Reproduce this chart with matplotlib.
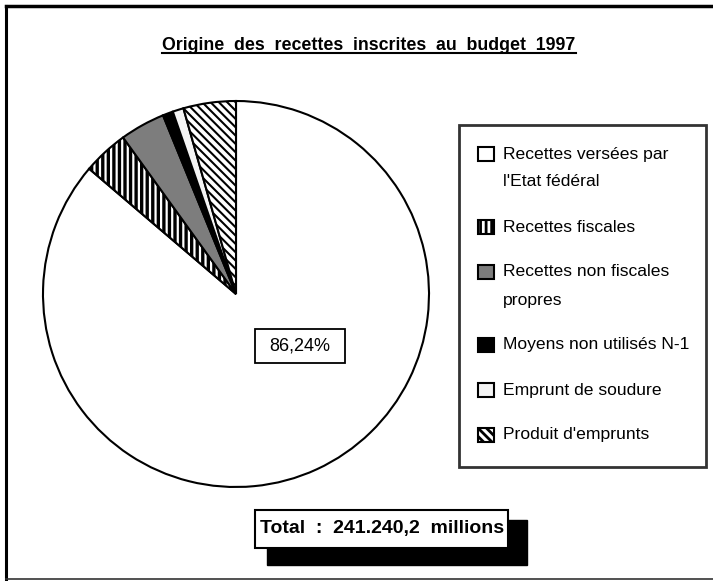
import matplotlib
matplotlib.use("Agg")
import matplotlib.pyplot as plt
from matplotlib.patches import Rectangle

plt.rcParams['font.family'] = ['Liberation Sans', 'DejaVu Sans']
plt.rcParams['hatch.linewidth'] = 2.0

# ---- data ----
categories = ["Recettes versées par\nl'Etat fédéral",
              "Recettes fiscales",
              "Recettes non fiscales\npropres",
              "Moyens non utilisés N-1",
              "Emprunt de soudure",
              "Produit d'emprunts"]
shares = [86.24, 3.81, 3.78, 0.86, 0.92, 4.39]
main_label = "86,24%"
title = "Origine  des  recettes  inscrites  au  budget  1997"
total_text = "Total  :  241.240,2  millions"

W, H = 713, 581
fig = plt.figure(figsize=(W / 100, H / 100), dpi=100)
ax = fig.add_axes([0, 0, 1, 1])


def Y(y):
    return H - y


# outer frame
ax.plot([6, 6], [Y(6), Y(579)], color='black', lw=2.2)
ax.plot([6, W], [Y(6), Y(6)], color='black', lw=2.5)
ax.plot([6, W], [Y(579), Y(579)], color='#333333', lw=1.2)

# pie
fills = ['white', 'white', '#7d7d7d', 'black', '#f4f4f4', 'white']
hatches = [None, '|||', None, None, None, '\\\\\\\\']
hatch_lw = [None, 2.4, None, None, None, 1.5]
wedges, _ = ax.pie(shares, startangle=90, counterclock=False,
                   center=(236, Y(294)), radius=193, frame=True,
                   wedgeprops=dict(edgecolor='black', linewidth=1.5))
for w, fc, h, hl in zip(wedges, fills, hatches, hatch_lw):
    w.set_facecolor(fc)
    if h:
        w.set_hatch(h)
        if hasattr(w, 'set_hatch_linewidth'):
            w.set_hatch_linewidth(hl)
ax.set_xlim(0, W)
ax.set_ylim(0, H)
ax.set_aspect('equal')
ax.axis('off')

# main slice label
ax.add_patch(Rectangle((255, Y(363)), 90, 34, facecolor='white',
                       edgecolor='black', lw=1.3, zorder=5))
ax.text(300, Y(346), main_label, ha='center', va='center', fontsize=13,
        zorder=6)

# title with underline
t = ax.text(369, Y(45), title, ha='center', va='center', fontsize=12.8,
            fontweight='bold')
fig.canvas.draw()
bb = t.get_window_extent().transformed(ax.transData.inverted())
ax.plot([bb.x0, bb.x1], [Y(53), Y(53)], color='black', lw=1.5)

# legend frame + entries (styles copied from the wedges)
ax.add_patch(Rectangle((459, Y(467)), 247, 342, facecolor='white',
                       edgecolor='#333333', lw=2.0, zorder=3))
ycur = 154
for w, lab in zip(wedges, categories):
    hp = Rectangle((478, Y(ycur) - 7), 16, 14, facecolor=w.get_facecolor(),
                   edgecolor='black', lw=1.5, hatch=w.get_hatch(), zorder=4)
    ax.add_patch(hp)
    lines = lab.split('\n')
    for k, line in enumerate(lines):
        ax.text(503, Y(ycur + 28 * k), line, ha='left', va='center',
                fontsize=12.6, zorder=5)
    ycur += 28 * (len(lines) - 1) + 45

# total box with shadow
ax.add_patch(Rectangle((267, Y(565)), 260, 45, facecolor='black',
                       edgecolor='black', zorder=3))
ax.add_patch(Rectangle((255, Y(548)), 253, 38, facecolor='white',
                       edgecolor='black', lw=1.5, zorder=4))
ax.text(382, Y(529), total_text, ha='center', va='center', fontsize=14,
        fontweight='bold', zorder=5)

fig.savefig('out.png', dpi=100)
